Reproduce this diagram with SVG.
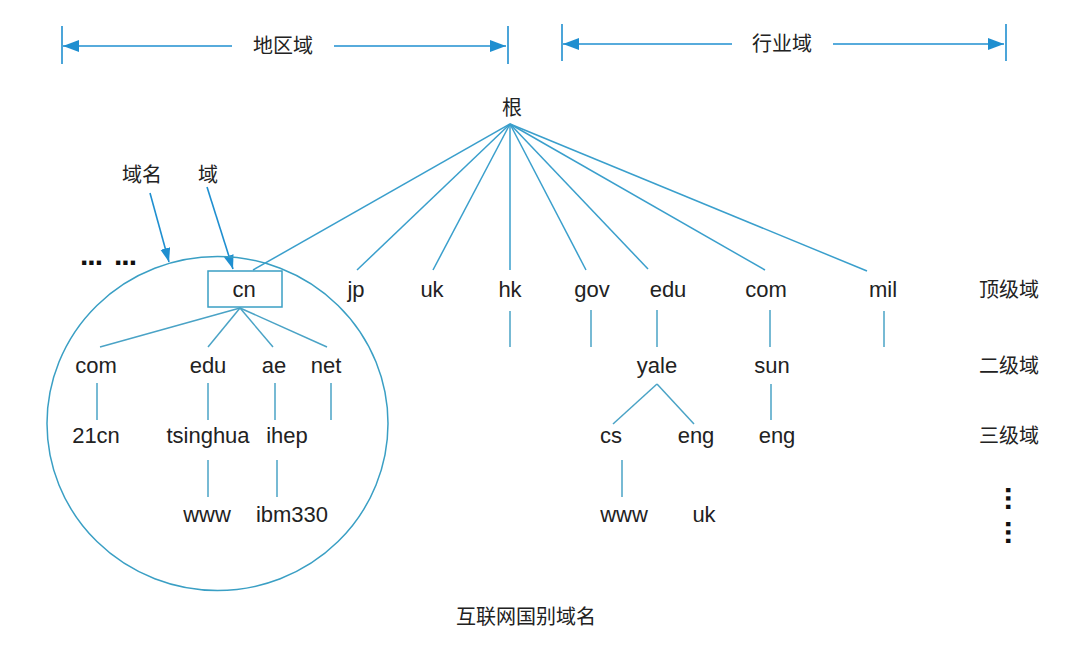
<svg xmlns="http://www.w3.org/2000/svg" width="1080" height="651" viewBox="0 0 1080 651">
<defs>
<marker id="ah" markerUnits="userSpaceOnUse" markerWidth="18" markerHeight="14" refX="16" refY="6" orient="auto">
<path d="M0,0 L16,6 L0,12 z" fill="#1f8fd0"/>
</marker>
<marker id="ah2" markerUnits="userSpaceOnUse" markerWidth="16" markerHeight="12" refX="14" refY="5" orient="auto">
<path d="M0,0 L14,5 L0,10 z" fill="#1f8fd0"/>
</marker>
<style>
.t{font-family:"Liberation Sans","Noto Sans CJK SC",sans-serif;font-size:22px;fill:#222;text-anchor:middle}
.c{font-family:"Noto Sans CJK SC","Liberation Sans",sans-serif;font-size:20px;fill:#222;text-anchor:middle}
.d{font-family:"Liberation Sans",sans-serif;font-size:30px;font-weight:bold;fill:#111;letter-spacing:-1px}
.ar{stroke:#1f8fd0;stroke-width:1.6;fill:none}
.ln{stroke:#3a9fcc;stroke-width:1.5;fill:none}
.tr{stroke:#4aa3c6;stroke-width:1.5;fill:none}
</style>
</defs>
<rect width="1080" height="651" fill="#fff"/>

<g id="scale-bars">
<line class="ar" x1="62" y1="26" x2="62" y2="64"/>
<line class="ar" x1="508" y1="26" x2="508" y2="64"/>
<line class="ar" x1="232" y1="46" x2="63" y2="46" marker-end="url(#ah)"/>
<line class="ar" x1="334" y1="46" x2="506" y2="46" marker-end="url(#ah)"/>
<text class="c" x="283" y="53">地区域</text>
<line class="ar" x1="562" y1="24" x2="562" y2="61"/>
<line class="ar" x1="1006" y1="24" x2="1006" y2="61"/>
<line class="ar" x1="732" y1="44" x2="563" y2="44" marker-end="url(#ah)"/>
<line class="ar" x1="833" y1="44" x2="1004" y2="44" marker-end="url(#ah)"/>
<text class="c" x="782" y="51">行业域</text>
</g>

<g id="connectors">
<line class="ln" x1="510" y1="124" x2="253" y2="270"/>
<line class="ln" x1="510" y1="124" x2="357" y2="270"/>
<line class="ln" x1="510" y1="124" x2="433" y2="270"/>
<line class="ln" x1="510" y1="124" x2="510" y2="270"/>
<line class="ln" x1="510" y1="124" x2="586" y2="270"/>
<line class="ln" x1="510" y1="124" x2="648" y2="269"/>
<line class="ln" x1="510" y1="124" x2="765" y2="270"/>
<line class="ln" x1="510" y1="124" x2="867" y2="271"/>
<line class="tr" x1="240" y1="308" x2="100" y2="347"/>
<line class="tr" x1="240" y1="308" x2="208" y2="347"/>
<line class="tr" x1="240" y1="308" x2="273" y2="347"/>
<line class="tr" x1="240" y1="308" x2="327" y2="347"/>
<line class="tr" x1="97" y1="383" x2="97" y2="420"/>
<line class="tr" x1="208" y1="383" x2="208" y2="420"/>
<line class="tr" x1="275" y1="383" x2="275" y2="420"/>
<line class="tr" x1="331" y1="383" x2="331" y2="420"/>
<line class="tr" x1="208" y1="460" x2="208" y2="497"/>
<line class="tr" x1="277" y1="460" x2="277" y2="497"/>
<line class="tr" x1="510" y1="311" x2="510" y2="347"/>
<line class="tr" x1="591" y1="310" x2="591" y2="347"/>
<line class="tr" x1="657" y1="310" x2="657" y2="347"/>
<line class="tr" x1="770" y1="310" x2="770" y2="347"/>
<line class="tr" x1="884" y1="311" x2="884" y2="347"/>
<line class="tr" x1="657" y1="384" x2="613" y2="424"/>
<line class="tr" x1="657" y1="384" x2="694" y2="424"/>
<line class="tr" x1="771" y1="384" x2="771" y2="420"/>
<line class="tr" x1="622" y1="460" x2="622" y2="497"/>
<line class="ar" x1="150" y1="193" x2="169" y2="262" marker-end="url(#ah2)"/>
<line class="ar" x1="207" y1="187" x2="233" y2="269" marker-end="url(#ah2)"/>
</g>

<g id="cn-domain-circle">
<ellipse cx="217.5" cy="423.5" rx="170.5" ry="167" fill="none" stroke="#3a9fc4" stroke-width="1.5"/>
</g>

<g id="annotations">
<text class="c" x="142" y="182">域名</text>
<text class="c" x="208" y="182">域</text>
<text class="d" x="80" y="265">...</text>
<text class="d" x="114" y="265">...</text>
</g>

<g id="root"><text class="c" x="512" y="115">根</text></g>

<g id="node-cn">
<rect x="208" y="271" width="74" height="36" fill="none" stroke="#3a9fc4" stroke-width="1.5"/>
<text class="t" x="244" y="297">cn</text>
</g>
<g id="node-jp"><text class="t" x="356" y="297">jp</text></g>
<g id="node-uk"><text class="t" x="432" y="297">uk</text></g>
<g id="node-hk"><text class="t" x="510" y="297">hk</text></g>
<g id="node-gov"><text class="t" x="592" y="297">gov</text></g>
<g id="node-edu"><text class="t" x="668" y="297">edu</text></g>
<g id="node-com"><text class="t" x="766" y="297">com</text></g>
<g id="node-mil"><text class="t" x="883" y="297">mil</text></g>

<g id="node-cn-com"><text class="t" x="96" y="373">com</text></g>
<g id="node-cn-edu"><text class="t" x="208" y="373">edu</text></g>
<g id="node-cn-ae"><text class="t" x="274" y="373">ae</text></g>
<g id="node-cn-net"><text class="t" x="326" y="373">net</text></g>
<g id="node-21cn"><text class="t" x="96" y="443">21cn</text></g>
<g id="node-tsinghua"><text class="t" x="208" y="443">tsinghua</text></g>
<g id="node-ihep"><text class="t" x="287" y="443">ihep</text></g>
<g id="node-cn-www"><text class="t" x="207" y="522">www</text></g>
<g id="node-ibm330"><text class="t" x="292" y="522">ibm330</text></g>

<g id="node-yale"><text class="t" x="657" y="373">yale</text></g>
<g id="node-sun"><text class="t" x="772" y="373">sun</text></g>
<g id="node-cs"><text class="t" x="611" y="443">cs</text></g>
<g id="node-yale-eng"><text class="t" x="696" y="443">eng</text></g>
<g id="node-sun-eng"><text class="t" x="777" y="443">eng</text></g>
<g id="node-yale-www"><text class="t" x="624" y="522">www</text></g>
<g id="node-yale-uk"><text class="t" x="704" y="522">uk</text></g>

<g id="level-labels">
<text class="c" x="1009" y="297">顶级域</text>
<text class="c" x="1009" y="373">二级域</text>
<text class="c" x="1009" y="443">三级域</text>
<text class="d" style="letter-spacing:0" transform="translate(1006,486) rotate(90)">...</text>
<text class="d" style="letter-spacing:0" transform="translate(1006,520) rotate(90)">...</text>
</g>

<g id="caption"><text class="c" x="526" y="624">互联网国别域名</text></g>
</svg>
